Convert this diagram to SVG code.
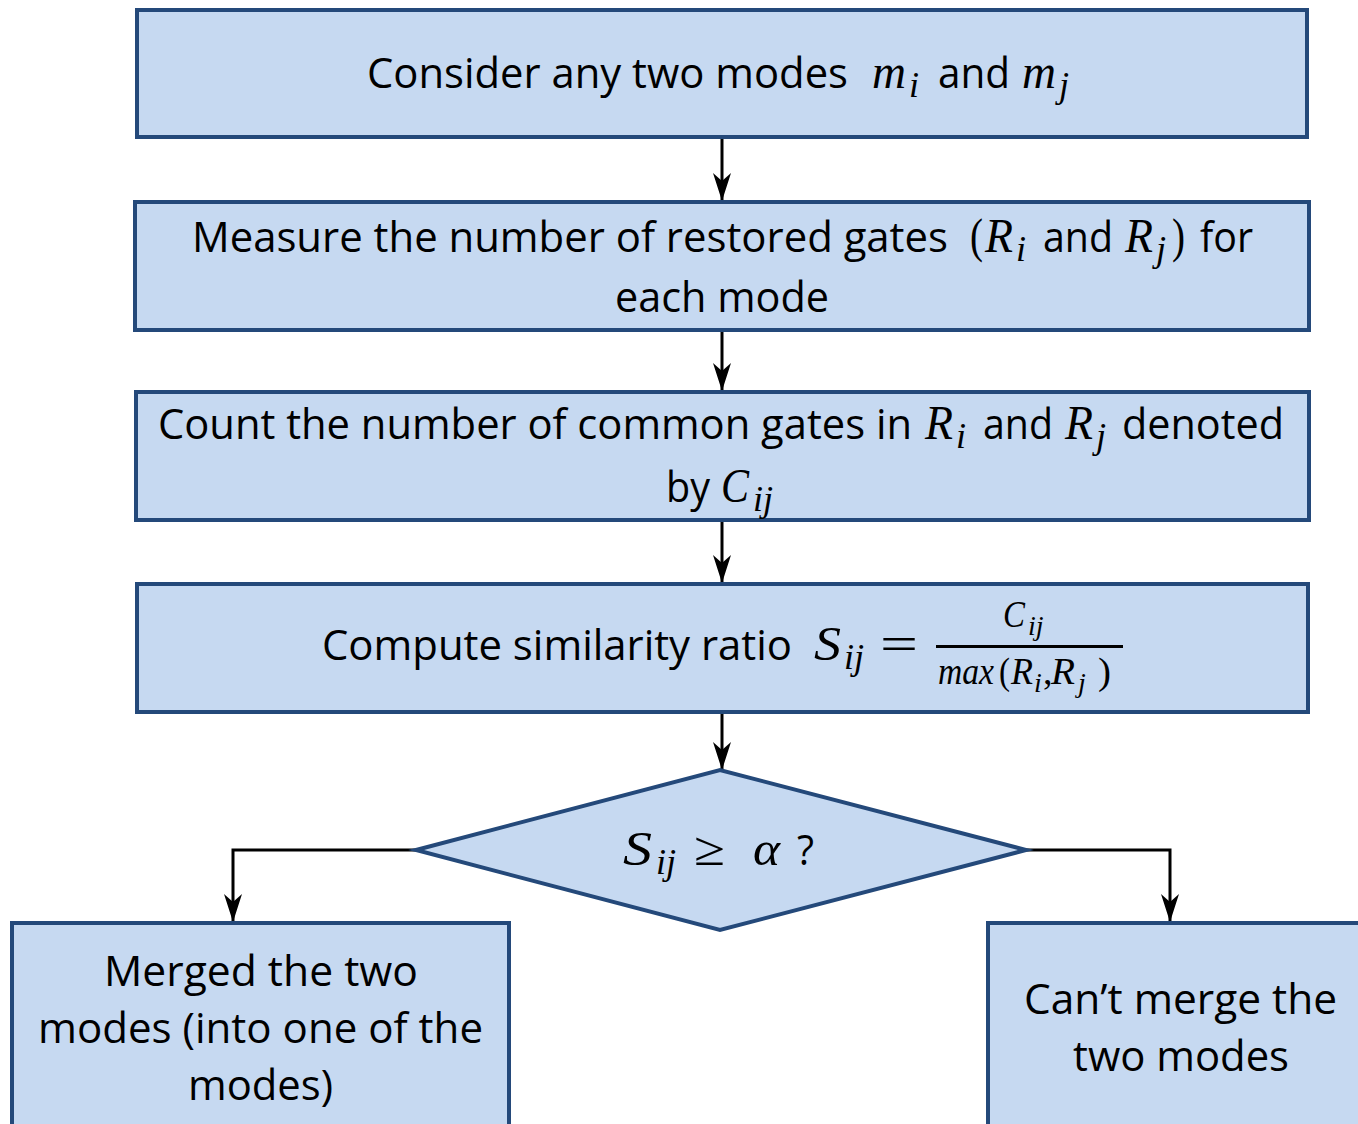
<svg xmlns="http://www.w3.org/2000/svg" width="1358" height="1124" viewBox="0 0 1358 1124">
<defs>
<style>
.box{fill:#C6D9F1;stroke:#24497A;stroke-width:4;stroke-linejoin:miter}
.t{font-family:"Open Sans","Liberation Sans",sans-serif;font-size:42px;fill:#000}
.m{font-family:"Liberation Serif","DejaVu Serif",serif;font-style:italic;font-size:48px;fill:#000}
.u{font-family:"Liberation Serif","DejaVu Serif",serif;font-size:48px;fill:#000}
.s{font-family:"Liberation Serif","DejaVu Serif",serif;font-style:italic;font-size:36px;fill:#000}
.mf{font-family:"Liberation Serif","DejaVu Serif",serif;font-style:italic;font-size:38px;fill:#000}
.uf{font-family:"Liberation Serif","DejaVu Serif",serif;font-size:38px;fill:#000}
.sf{font-family:"Liberation Serif","DejaVu Serif",serif;font-style:italic;font-size:28px;fill:#000}
.c{fill:none;stroke:#000;stroke-width:3}
</style>
<marker id="ah" markerUnits="userSpaceOnUse" markerWidth="30" markerHeight="22" viewBox="0 -11 30 22" refX="28" refY="0" orient="auto">
<path d="M0,-9 L28,0 L0,9 L8,0 Z" fill="#000"/>
</marker>
</defs>
<rect width="1358" height="1124" fill="#fff"/>

<g id="connectors">
<line class="c" x1="722" y1="139" x2="722" y2="201" marker-end="url(#ah)"/>
<line class="c" x1="722" y1="332" x2="722" y2="391" marker-end="url(#ah)"/>
<line class="c" x1="722" y1="522" x2="722" y2="583" marker-end="url(#ah)"/>
<line class="c" x1="722" y1="714" x2="722" y2="770" marker-end="url(#ah)"/>
<polyline class="c" points="416,850 233,850 233,922" marker-end="url(#ah)"/>
<polyline class="c" points="1026,850 1170,850 1170,922" marker-end="url(#ah)"/>
</g>

<g id="node1">
<rect class="box" x="137" y="10" width="1170" height="127"/>
<text class="t" x="367" y="88" textLength="481" lengthAdjust="spacingAndGlyphs">Consider any two modes</text>
<text class="m" x="872" y="88" textLength="34" lengthAdjust="spacingAndGlyphs">m</text>
<text class="s" x="909" y="97">i</text>
<text class="t" x="938" y="88" textLength="72" lengthAdjust="spacingAndGlyphs">and</text>
<text class="m" x="1022" y="88" textLength="34" lengthAdjust="spacingAndGlyphs">m</text>
<text class="s" x="1059" y="97">j</text>
</g>

<g id="node2">
<rect class="box" x="135" y="202" width="1174" height="128"/>
<text class="t" x="192" y="252" textLength="756" lengthAdjust="spacingAndGlyphs">Measure the number of restored gates</text>
<text class="u" x="970" y="252" textLength="13" lengthAdjust="spacingAndGlyphs">(</text>
<text class="m" x="985" y="252" textLength="28" lengthAdjust="spacingAndGlyphs">R</text>
<text class="s" x="1016" y="261">i</text>
<text class="t" x="1043" y="252" textLength="70" lengthAdjust="spacingAndGlyphs">and</text>
<text class="m" x="1125" y="252" textLength="28" lengthAdjust="spacingAndGlyphs">R</text>
<text class="s" x="1156" y="261">j</text>
<text class="u" x="1172" y="252" textLength="13" lengthAdjust="spacingAndGlyphs">)</text>
<text class="t" x="1200" y="252" textLength="53" lengthAdjust="spacingAndGlyphs">for</text>
<text class="t" x="615" y="312" textLength="214" lengthAdjust="spacingAndGlyphs">each mode</text>
</g>

<g id="node3">
<rect class="box" x="136" y="392" width="1173" height="128"/>
<text class="t" x="158" y="439" textLength="754" lengthAdjust="spacingAndGlyphs">Count the number of common gates in</text>
<text class="m" x="925" y="439" textLength="28" lengthAdjust="spacingAndGlyphs">R</text>
<text class="s" x="956" y="448">i</text>
<text class="t" x="983" y="439" textLength="70" lengthAdjust="spacingAndGlyphs">and</text>
<text class="m" x="1065" y="439" textLength="28" lengthAdjust="spacingAndGlyphs">R</text>
<text class="s" x="1096" y="448">j</text>
<text class="t" x="1122" y="439" textLength="162" lengthAdjust="spacingAndGlyphs">denoted</text>
<text class="t" x="666" y="502" textLength="44" lengthAdjust="spacingAndGlyphs">by</text>
<text class="m" x="721" y="502" textLength="28" lengthAdjust="spacingAndGlyphs">C</text>
<text class="s" x="753" y="511">ij</text>
</g>

<g id="node4">
<rect class="box" x="137" y="584" width="1171" height="128"/>
<text class="t" x="322" y="660" textLength="470" lengthAdjust="spacingAndGlyphs">Compute similarity ratio</text>
<text class="m" x="814" y="660" textLength="27" lengthAdjust="spacingAndGlyphs">S</text>
<text class="s" x="844" y="669">ij</text>
<text class="u" x="880" y="660" textLength="38" lengthAdjust="spacingAndGlyphs">=</text>
<line x1="936" y1="646.5" x2="1123" y2="646.5" stroke="#000" stroke-width="3"/>
<text class="mf" x="1003" y="627" textLength="22" lengthAdjust="spacingAndGlyphs">C</text>
<text class="sf" x="1028" y="635">ij</text>
<text class="mf" x="938" y="684" textLength="56" lengthAdjust="spacingAndGlyphs">max</text>
<text class="uf" x="999" y="684" textLength="11" lengthAdjust="spacingAndGlyphs">(</text>
<text class="mf" x="1011" y="684" textLength="22" lengthAdjust="spacingAndGlyphs">R</text>
<text class="sf" x="1034" y="692">i</text>
<text class="uf" x="1043" y="684">,</text>
<text class="mf" x="1051" y="684" textLength="24" lengthAdjust="spacingAndGlyphs">R</text>
<text class="sf" x="1078" y="692">j</text>
<text class="uf" x="1098" y="684" textLength="13" lengthAdjust="spacingAndGlyphs">)</text>
</g>

<g id="decision">
<polygon class="box" points="416,850 720,770 1026,850 720,930"/>
<text class="m" x="623" y="865" textLength="29" lengthAdjust="spacingAndGlyphs">S</text>
<text class="s" x="656" y="874">ij</text>
<text class="u" x="694" y="865" textLength="31" lengthAdjust="spacingAndGlyphs">≥</text>
<text class="m" x="753" y="865" textLength="27" lengthAdjust="spacingAndGlyphs">α</text>
<text class="t" x="797" y="865" textLength="17" lengthAdjust="spacingAndGlyphs">?</text>
</g>

<g id="node5">
<rect class="box" x="12" y="923" width="497" height="215"/>
<text class="t" x="104" y="986" textLength="314" lengthAdjust="spacingAndGlyphs">Merged the two</text>
<text class="t" x="38" y="1043" textLength="445" lengthAdjust="spacingAndGlyphs">modes (into one of the</text>
<text class="t" x="188" y="1100" textLength="145" lengthAdjust="spacingAndGlyphs">modes)</text>
</g>

<g id="node6">
<rect class="box" x="988" y="923" width="385" height="215"/>
<text class="t" x="1024" y="1014" textLength="313" lengthAdjust="spacingAndGlyphs">Can’t merge the</text>
<text class="t" x="1073" y="1071" textLength="216" lengthAdjust="spacingAndGlyphs">two modes</text>
</g>
</svg>
